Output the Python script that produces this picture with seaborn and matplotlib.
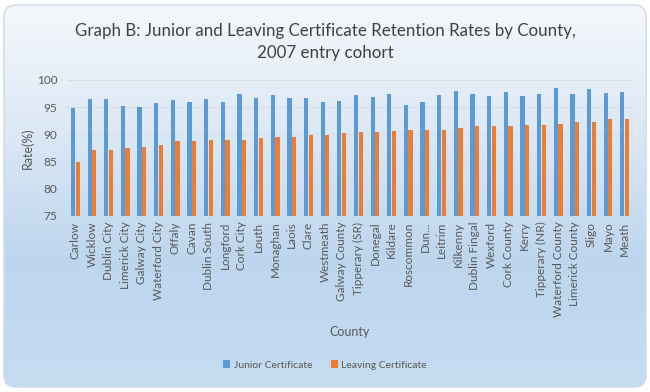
import numpy as np
import pandas as pd
import matplotlib
matplotlib.use("Agg")
import matplotlib.pyplot as plt
import seaborn as sns
from matplotlib.patches import FancyBboxPatch

counties = ["Carlow", "Wicklow", "Dublin City", "Limerick City", "Galway City",
            "Waterford City", "Offaly", "Cavan", "Dublin South", "Longford",
            "Cork City", "Louth", "Monaghan", "Laois", "Clare", "Westmeath",
            "Galway County", "Tipperary (SR)", "Donegal", "Kildare", "Roscommon",
            "Dun...", "Leitrim", "Kilkenny", "Dublin Fingal", "Wexford",
            "Cork County", "Kerry", "Tipperary (NR)", "Waterford County",
            "Limerick County", "Sligo", "Mayo", "Meath"]

junior = [94.9, 96.5, 96.5, 95.3, 95.0, 95.8, 96.4, 95.9, 96.5, 95.9,
          97.5, 96.7, 97.3, 96.7, 96.7, 95.9, 96.1, 97.3, 96.9, 97.4,
          95.4, 95.9, 97.2, 97.9, 97.4, 97.0, 97.8, 97.0, 97.5, 98.5,
          97.4, 98.4, 97.6, 97.8]

leaving = [85.0, 87.1, 87.2, 87.5, 87.6, 88.1, 88.7, 88.8, 88.9, 88.9,
           88.9, 89.3, 89.5, 89.6, 89.8, 89.9, 90.3, 90.4, 90.5, 90.7,
           90.8, 90.9, 90.9, 91.2, 91.6, 91.6, 91.6, 91.8, 91.8, 92.0,
           92.3, 92.3, 92.8, 92.8]

series = ["Junior Certificate", "Leaving Certificate"]
colors = ["#5B9BD5", "#ED7D31"]

df = pd.DataFrame({
    "County": counties * 2,
    "Rate": junior + leaving,
    "Certificate": [series[0]] * len(counties) + [series[1]] * len(counties),
})

sns.set_style("white")
plt.rcParams["font.family"] = ["Lato", "DejaVu Sans"]

fig = plt.figure(figsize=(6.5, 3.92), dpi=100)
fig.patch.set_facecolor("white")

# card background with vertical gradient
bg = fig.add_axes([0, 0, 1, 1], zorder=-5)
bg.set_xlim(0, 650)
bg.set_ylim(392, 0)
bg.axis("off")
grad = np.linspace(0, 1, 256).reshape(-1, 1)
cmap = matplotlib.colors.LinearSegmentedColormap.from_list(
    "bg", ["#f5f8fc", "#dce8f5", "#bdd6ee", "#c6dcf1"])
im = bg.imshow(grad, extent=[4, 646, 387, 5], aspect="auto", cmap=cmap)
card = FancyBboxPatch((4, 5), 642, 382, boxstyle="round,pad=0,rounding_size=12",
                      facecolor="none", edgecolor="#d3dce8", linewidth=1.2)
bg.add_patch(card)
im.set_clip_path(card)

ax = fig.add_axes([67 / 650, 1 - 216 / 392, 566 / 650, 136 / 392])
ax.set_facecolor("none")
sns.barplot(data=df, x="County", y="Rate", hue="Certificate", palette=colors,
            width=0.56, gap=0.1, ax=ax, legend=True, saturation=1, linewidth=0)

ax.set_ylim(75, 100)
ax.set_yticks([75, 80, 85, 90, 95, 100])
ax.set_xlim(-0.5, len(counties) - 0.5)
ax.grid(axis="y", color="#d4dde8", linewidth=0.8)
ax.set_axisbelow(True)
for s in ax.spines.values():
    s.set_visible(False)
ax.tick_params(axis="both", length=0, colors="#595959", labelsize=8.5)
ax.tick_params(axis="y", pad=7)
ax.tick_params(axis="x", pad=4)
plt.setp(ax.get_xticklabels(), rotation=90)

ax.set_xlabel("County", color="#595959", fontsize=9, labelpad=6)
ax.set_ylabel("Rate(%)", color="#595959", fontsize=9, labelpad=2)

fig.text(0.5, 1 - 42 / 392,
         "Graph B: Junior and Leaving Certificate Retention Rates by County,\n2007 entry cohort",
         ha="center", va="center", fontsize=12.2, color="#404040", linespacing=1.4)

handles, labels = ax.get_legend_handles_labels()
ax.legend_.remove()
fig.legend(handles, labels, loc="center", bbox_to_anchor=(0.5, 1 - 365 / 392),
           ncol=2, frameon=False, fontsize=7.5, labelcolor="#595959",
           handlelength=0.7, handleheight=0.7, handletextpad=0.3, columnspacing=1.8)

fig.savefig("out.png", dpi=100)
